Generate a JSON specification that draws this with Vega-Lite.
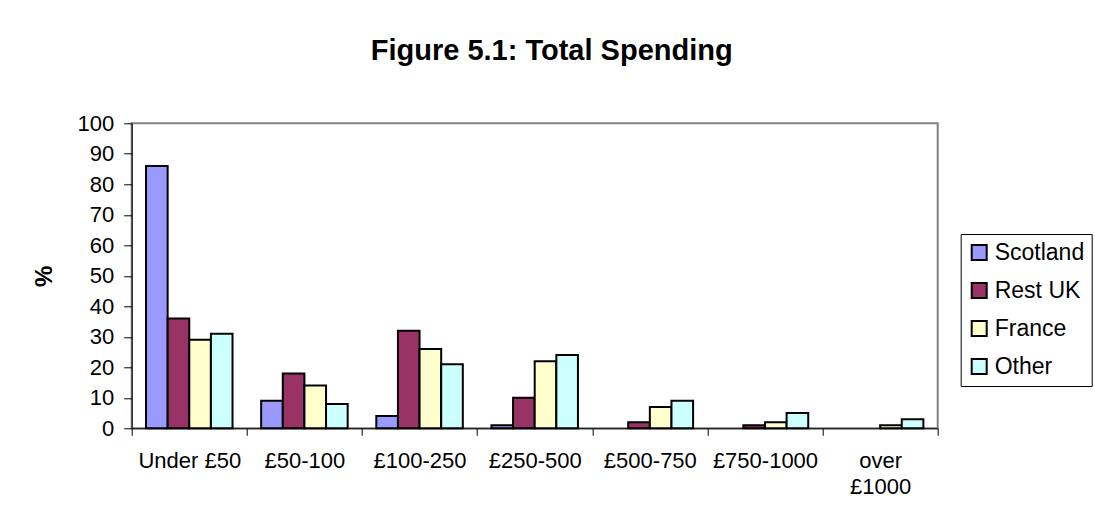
{
  "$schema": "https://vega.github.io/schema/vega-lite/v6.json",
  "autosize": "none",
  "padding": {"left": 131.7, "top": 123.3, "right": 157.3, "bottom": 95.7},
  "width": 806,
  "height": 305,
  "background": "white",
  "title": {
    "text": "Figure 5.1: Total Spending",
    "font": "Liberation Sans",
    "fontSize": 29,
    "fontWeight": "bold",
    "color": "black",
    "anchor": "middle",
    "offset": 46,
    "dx": 17
  },
  "data": {
    "values": [
      {"band": "Under £50", "region": "Scotland", "pct": 86},
      {"band": "Under £50", "region": "Rest UK", "pct": 36},
      {"band": "Under £50", "region": "France", "pct": 29},
      {"band": "Under £50", "region": "Other", "pct": 31},
      {"band": "£50-100", "region": "Scotland", "pct": 9},
      {"band": "£50-100", "region": "Rest UK", "pct": 18},
      {"band": "£50-100", "region": "France", "pct": 14},
      {"band": "£50-100", "region": "Other", "pct": 8},
      {"band": "£100-250", "region": "Scotland", "pct": 4},
      {"band": "£100-250", "region": "Rest UK", "pct": 32},
      {"band": "£100-250", "region": "France", "pct": 26},
      {"band": "£100-250", "region": "Other", "pct": 21},
      {"band": "£250-500", "region": "Scotland", "pct": 1},
      {"band": "£250-500", "region": "Rest UK", "pct": 10},
      {"band": "£250-500", "region": "France", "pct": 22},
      {"band": "£250-500", "region": "Other", "pct": 24},
      {"band": "£500-750", "region": "Rest UK", "pct": 2},
      {"band": "£500-750", "region": "France", "pct": 7},
      {"band": "£500-750", "region": "Other", "pct": 9},
      {"band": "£750-1000", "region": "Rest UK", "pct": 1},
      {"band": "£750-1000", "region": "France", "pct": 2},
      {"band": "£750-1000", "region": "Other", "pct": 5},
      {"band": "over £1000", "region": "France", "pct": 1},
      {"band": "over £1000", "region": "Other", "pct": 3}
    ]
  },
  "mark": {"type": "bar", "stroke": "black", "strokeWidth": 2},
  "encoding": {
    "x": {
      "field": "band",
      "type": "nominal",
      "sort": ["Under £50", "£50-100", "£100-250", "£250-500", "£500-750", "£750-1000", "over £1000"],
      "scale": {"paddingInner": 0, "paddingOuter": 0},
      "axis": {
        "title": null,
        "labelAngle": 0,
        "tickBand": "extent",
        "labelExpr": "datum.value == 'over £1000' ? ['over', '£1000'] : datum.value",
        "labelLineHeight": 26,
        "labelBaseline": "top",
        "labelPadding": 15,
        "tickSize": 7,
        "labelFontSize": 22,
        "labelFont": "Liberation Sans",
        "labelColor": "black",
        "domainColor": "black",
        "tickColor": "black",
        "labelLimit": 300
      }
    },
    "xOffset": {
      "field": "region",
      "type": "nominal",
      "sort": ["Scotland", "Rest UK", "France", "Other"],
      "scale": {"paddingInner": 0, "paddingOuter": 0.662}
    },
    "y": {
      "field": "pct",
      "type": "quantitative",
      "scale": {"domain": [0, 100], "nice": false},
      "axis": {
        "title": "%",
        "titleFont": "Liberation Sans",
        "titleFontSize": 24,
        "titleFontWeight": "bold",
        "titleColor": "black",
        "titlePadding": 20,
        "values": [0, 10, 20, 30, 40, 50, 60, 70, 80, 90, 100],
        "grid": false,
        "tickSize": 8,
        "labelPadding": 10,
        "labelFontSize": 22,
        "labelFont": "Liberation Sans",
        "labelColor": "black",
        "domainColor": "black",
        "tickColor": "black"
      }
    },
    "color": {
      "field": "region",
      "type": "nominal",
      "sort": ["Scotland", "Rest UK", "France", "Other"],
      "scale": {
        "domain": ["Scotland", "Rest UK", "France", "Other"],
        "range": ["#9999FF", "#993366", "#FFFFCC", "#CCFFFF"]
      },
      "legend": {
        "title": null,
        "orient": "none",
        "legendX": 829,
        "legendY": 110.7,
        "padding": 7,
        "strokeColor": "black",
        "symbolType": "square",
        "symbolSize": 225,
        "symbolStrokeColor": "black",
        "symbolStrokeWidth": 2,
        "labelFont": "Liberation Sans",
        "labelFontSize": 23,
        "labelColor": "black",
        "labelOffset": 4,
        "rowPadding": 14,
        "labelLimit": 200
      }
    }
  },
  "config": {
    "view": {"stroke": "#808080", "strokeWidth": 2},
    "axis": {"domainWidth": 1, "tickWidth": 1}
  }
}
